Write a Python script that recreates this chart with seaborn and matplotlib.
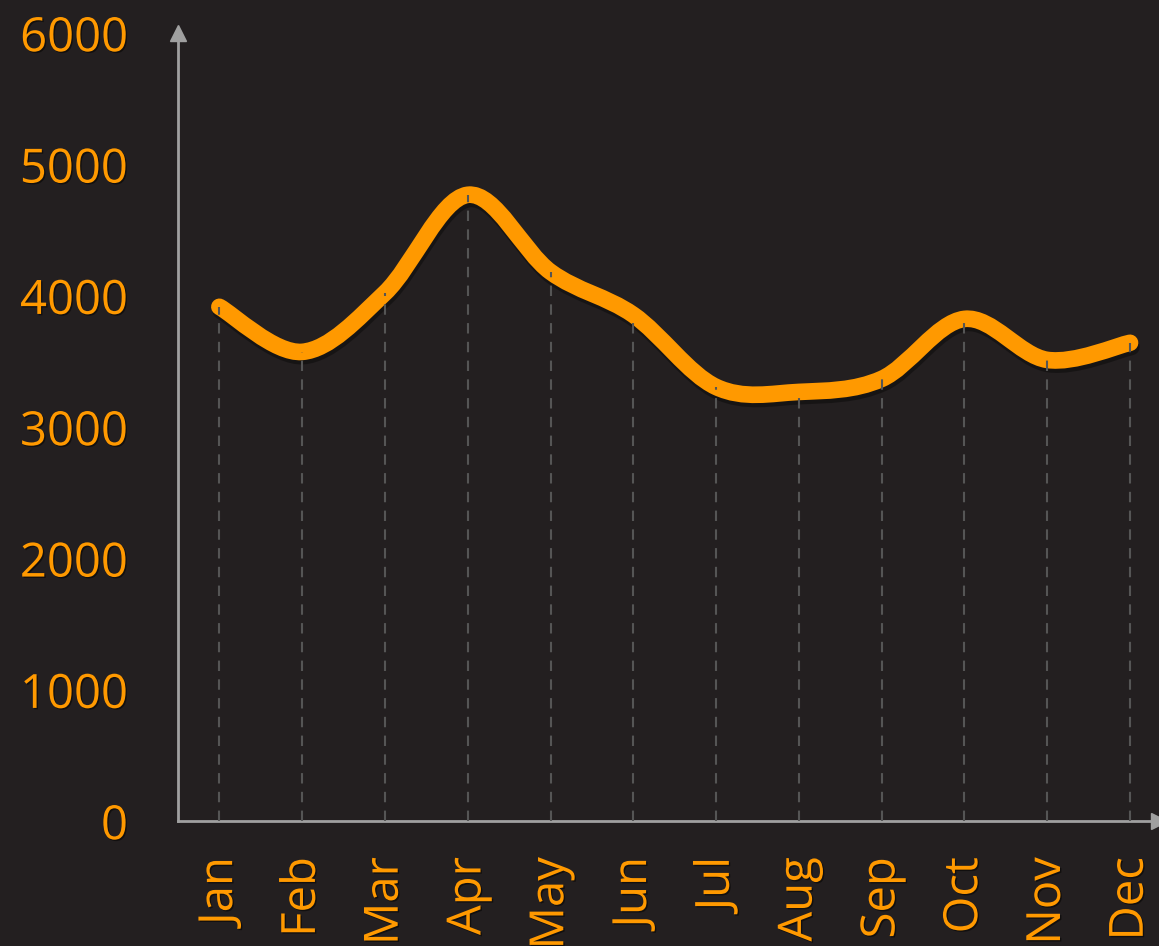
import numpy as np
import seaborn as sns
import matplotlib.pyplot as plt
import matplotlib.patheffects as pe
from matplotlib.path import Path
from matplotlib.patches import PathPatch

# Data
months = ["Jan", "Feb", "Mar", "Apr", "May", "Jun",
          "Jul", "Aug", "Sep", "Oct", "Nov", "Dec"]
values = [3915, 3572, 4021, 4768, 4181, 3854,
          3305, 3267, 3366, 3823, 3511, 3641]
y_ticks = [0, 1000, 2000, 3000, 4000, 5000, 6000]

BG = "#231f20"
ORANGE = "#ff9900"
AXIS = "#a0a0a0"
DROP = "#555555"


def smooth_path(xs, ys, k=6.0):
    # cardinal spline (catmull-rom) as cubic bezier segments
    p = np.column_stack([xs, ys]).astype(float)
    ext = np.vstack([p[0], p, p[-1]])
    verts = [tuple(p[0])]
    codes = [Path.MOVETO]
    for i in range(1, len(ext) - 2):
        p0, p1, p2, p3 = ext[i - 1], ext[i], ext[i + 1], ext[i + 2]
        c1 = p1 + (p2 - p0) / k
        c2 = p2 - (p3 - p1) / k
        verts += [tuple(c1), tuple(c2), tuple(p2)]
        codes += [Path.CURVE4] * 3
    return Path(verts, codes)


sns.set_theme(style="dark", rc={
    "figure.facecolor": BG,
    "axes.facecolor": BG,
    "savefig.facecolor": BG,
})
plt.rcParams["font.family"] = ["Open Sans", "DejaVu Sans"]

fig = plt.figure(figsize=(11.59, 9.46), dpi=100)
ax = fig.add_axes([178 / 1159, 125 / 946, 981 / 1159, 788 / 946])

x = np.arange(len(months))

# dashed drop lines from each point to the axis
ax.vlines(x, 0, values, colors=DROP, linestyles=(0, (5, 4)), linewidth=1.5, zorder=4)

# smoothed line
path = smooth_path(x, values)
patch = PathPatch(path, facecolor="none", edgecolor=ORANGE, linewidth=12,
                  capstyle="round", joinstyle="round", zorder=3,
                  path_effects=[pe.SimpleLineShadow(offset=(1, -3), shadow_color="black", alpha=0.35),
                                pe.Normal()])
ax.add_patch(patch)

ax.set_xlim(-0.5, 11.35)
ax.set_ylim(0, 6000)

ax.set_xticks(x)
ax.set_xticklabels(months, rotation=90, ha="center", va="top")
ax.set_yticks(y_ticks)
ax.set_yticklabels([str(v) for v in y_ticks])
ax.tick_params(axis="both", length=0, labelsize=34, labelcolor=ORANGE)
ax.tick_params(axis="y", pad=36)
ax.tick_params(axis="x", pad=26)
for lab in ax.get_xticklabels() + ax.get_yticklabels():
    lab.set_path_effects([pe.withSimplePatchShadow(offset=(1, -1), shadow_rgbFace="black", alpha=0.5)])

ax.grid(False)
sns.despine(ax=ax, top=True, right=True)
for side in ["left", "bottom"]:
    ax.spines[side].set_color(AXIS)
    ax.spines[side].set_linewidth(2)

# axis arrows
ax.plot(0, 1, marker="^", markersize=11, color=AXIS, transform=ax.transAxes, clip_on=False)
ax.plot(1, 0, marker=">", markersize=11, color=AXIS, transform=ax.transAxes, clip_on=False)

fig.savefig("out.png", dpi=100, facecolor=BG)
